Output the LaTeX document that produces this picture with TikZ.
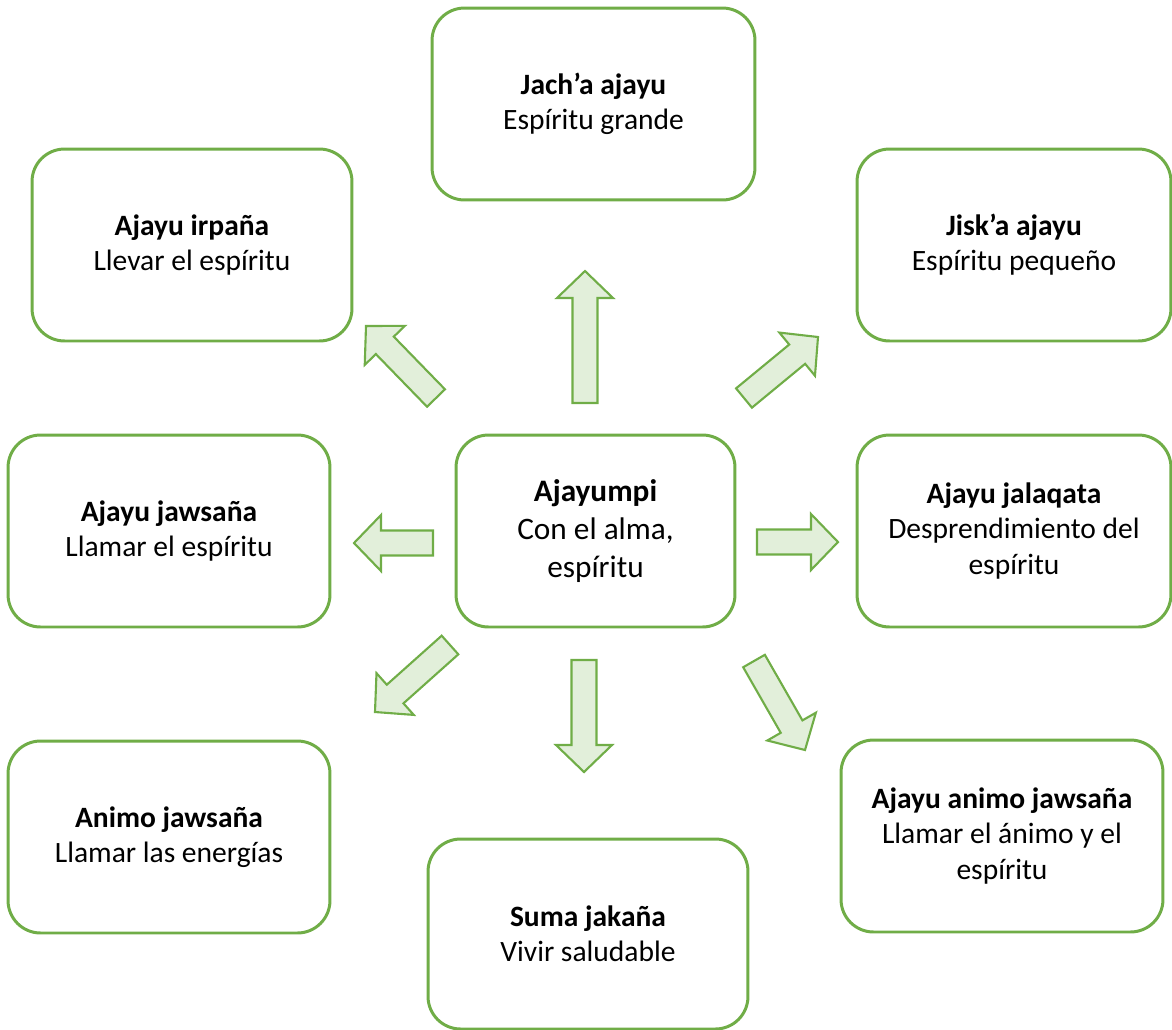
\documentclass[tikz,border=0pt]{standalone}
\usepackage{fontspec}
\setmainfont{Carlito}
\definecolor{ajgreen}{HTML}{70AD47}
\definecolor{ajlight}{HTML}{E2EFDA}
\usepackage{tikz}
\usetikzlibrary{calc}

% block arrow from a tail coordinate to a tip coordinate
\newcommand{\blockarrow}[2]{%
  \coordinate (hb) at ($(#2)!0.54cm!(#1)$);
  \filldraw[arrowbox]
    ($(#1)!0.25cm!90:(#2)$) -- ($(hb)!0.25cm!90:(#2)$) -- ($(hb)!0.56cm!90:(#2)$)
    -- (#2)
    -- ($(hb)!0.56cm!-90:(#2)$) -- ($(hb)!0.25cm!-90:(#2)$) -- ($(#1)!0.25cm!-90:(#2)$)
    -- cycle;
}

\begin{document}
\begin{tikzpicture}[x=0.02cm, y=-0.02cm,
    box/.style={draw=ajgreen, line width=1.7pt, rounded corners=0.65cm, fill=white,
      minimum width=6.4cm, minimum height=3.84cm, align=center,
      font=\fontsize{16.8}{20}\selectfont},
    arrowbox/.style={draw=ajgreen, fill=ajlight, line width=1.2pt, line join=miter}]
    \useasboundingbox (0,0) rectangle (1172,1029);
    % Centre
    \node[box, minimum width=5.58cm, font=\fontsize{17.8}{21.5}\selectfont] (ajayumpi) at (595.5,531)
      {\textbf{Ajayumpi}\\Con el alma,\\espíritu};
    % Outer boxes
    \node[box, minimum width=6.46cm] (jacha) at (593.5,104) {\textbf{Jach’a ajayu}\\Espíritu grande};
    \node[box] (irpana) at (192,245) {\textbf{Ajayu irpaña}\\Llevar el espíritu};
    \node[box, minimum width=6.28cm] (jiska) at (1014,245) {\textbf{Jisk’a ajayu}\\Espíritu pequeño};
    \node[box, minimum width=6.44cm] (jawsana) at (169,531) {\textbf{Ajayu jawsaña}\\Llamar el espíritu};
    \node[box, minimum width=6.28cm] (jalaqata) at (1014,531) {\textbf{Ajayu jalaqata}\\Desprendimiento del\\espíritu};
    \node[box, minimum width=6.44cm] (animo) at (169,837) {\textbf{Animo jawsaña}\\Llamar las energías};
    \node[box, minimum height=3.8cm] (suma) at (588,934) {\textbf{Suma jakaña}\\Vivir saludable};
    \node[box, minimum width=6.44cm] (ajanimo) at (1002,836) {\textbf{Ajayu animo jawsaña}\\Llamar el ánimo y el\\espíritu};
    % Arrow ends
    \coordinate (upA) at (585,403);  \coordinate (upB) at (585,271);
    \coordinate (ulA) at (436,398);  \coordinate (ulB) at (366,326);
    \coordinate (urA) at (744,398);  \coordinate (urB) at (818,337);
    \coordinate (lA) at (433,543);   \coordinate (lB) at (354,543);
    \coordinate (rA) at (757,542);   \coordinate (rB) at (838,542);
    \coordinate (dlA) at (450,645);  \coordinate (dlB) at (375,712);
    \coordinate (dA) at (584,660);   \coordinate (dB) at (584,772);
    \coordinate (drA) at (754,661);  \coordinate (drB) at (805,750);
    % Block arrows
    \foreach \a in {up,ul,ur,l,r,dl,d,dr}
      {\blockarrow{\a A}{\a B}}
\end{tikzpicture}
\end{document}
